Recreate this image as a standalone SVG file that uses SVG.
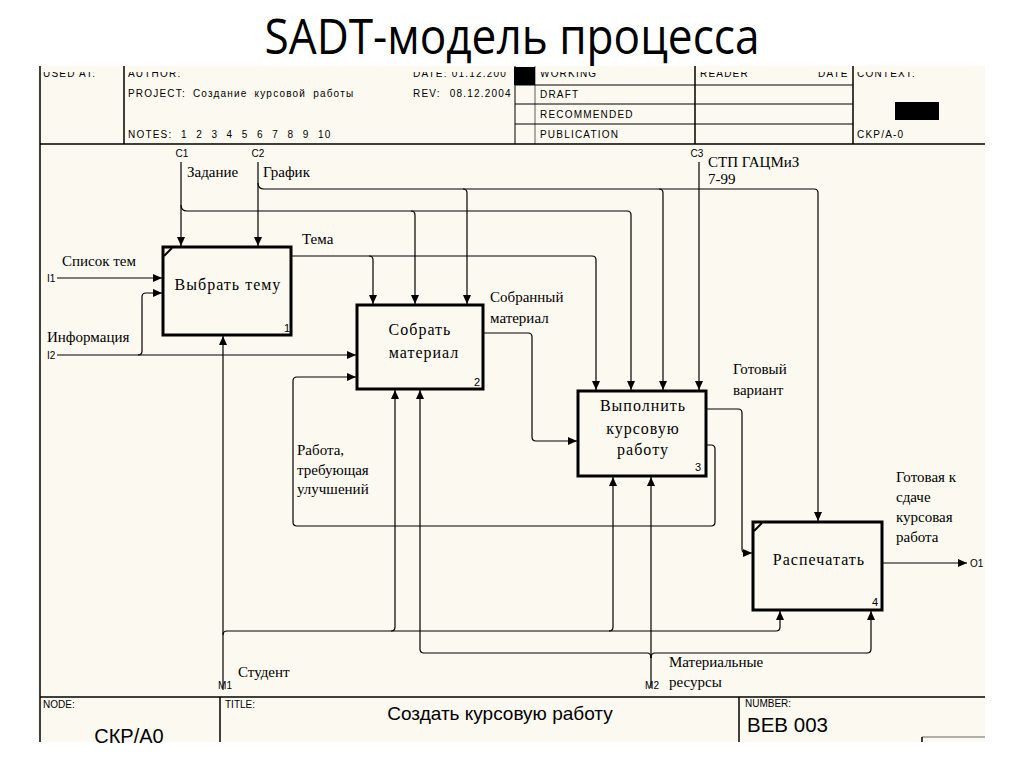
<svg xmlns="http://www.w3.org/2000/svg" width="1024" height="767" viewBox="0 0 1024 767">
<style>
.frame{stroke:#000;stroke-width:1.5;fill:none}
.thin{stroke:#000;stroke-width:1;fill:none}
.box{fill:#fcf9f0;stroke:#000;stroke-width:3}
.c{stroke:#000;stroke-width:1.2;fill:none}
.arr{marker-end:url(#ah)}
.bt{font-family:"Liberation Serif",serif;font-size:16px;letter-spacing:1px;text-anchor:middle;fill:#000}
.lb{font-family:"Liberation Serif",serif;font-size:15px;fill:#000}
.sm{font-family:"Liberation Sans",Arial,sans-serif;font-size:10px;fill:#000}
.hd{font-family:"Liberation Sans",Arial,sans-serif;font-size:10px;letter-spacing:1.2px;fill:#000}
.num{font-family:"Liberation Sans",Arial,sans-serif;font-size:11px;fill:#000}
</style>
<defs>
<marker id="ah" markerWidth="9" markerHeight="8" refX="9" refY="4" orient="auto" markerUnits="userSpaceOnUse">
<path d="M0,0 L9,4 L0,8 z" fill="#000"/>
</marker>
<clipPath id="topclip"><rect x="0" y="72" width="1024" height="12"/></clipPath>
</defs>
<rect x="0" y="0" width="1024" height="767" fill="#fff"/>
<text x="512" y="54" font-family="'Open Sans',sans-serif" font-size="50" text-anchor="middle" textLength="495" lengthAdjust="spacingAndGlyphs" fill="#000">SADT-модель процесса</text>
<rect x="38" y="66" width="947" height="676" fill="#fcf9f0"/>

<g id="header">
<g clip-path="url(#topclip)">
<text class="hd" x="43" y="77">USED AT:</text>
<text class="hd" x="128" y="77">AUTHOR:</text>
<text class="hd" x="413" y="77">DATE: 01.12.200</text>
<text class="hd" x="540" y="77">WORKING</text>
<text class="hd" x="700" y="77">READER</text>
<text class="hd" x="818" y="77">DATE</text>
<text class="hd" x="857" y="77">CONTEXT:</text>
</g>
<line class="frame" x1="40" y1="66" x2="40" y2="742"/>
<line class="frame" x1="124" y1="66" x2="124" y2="144"/>
<line class="thin" x1="515" y1="66" x2="515" y2="144"/>
<line stroke="#777" stroke-width="1.2" x1="535" y1="66" x2="535" y2="144"/>
<line class="frame" x1="695" y1="66" x2="695" y2="144" stroke-width="2"/>
<line class="frame" x1="853" y1="66" x2="853" y2="144" stroke-width="2"/>
<rect x="514" y="67" width="21" height="18" fill="#000"/>
<line class="thin" x1="515" y1="85" x2="853" y2="85"/>
<line class="thin" x1="515" y1="104" x2="853" y2="104"/>
<line class="thin" x1="515" y1="124" x2="853" y2="124"/>
<line class="frame" x1="40" y1="144" x2="985" y2="144"/>
<text class="hd" x="128" y="97" word-spacing="3">PROJECT: Создание курсовой работы</text>
<text class="hd" x="128" y="138" word-spacing="4.5">NOTES: 1 2 3 4 5 6 7 8 9 10</text>
<text class="hd" x="413" y="97" word-spacing="5">REV: 08.12.2004</text>
<text class="hd" x="540" y="98">DRAFT</text>
<text class="hd" x="540" y="118">RECOMMENDED</text>
<text class="hd" x="540" y="138">PUBLICATION</text>
<rect x="895" y="102" width="44" height="18" fill="#000"/>
<text class="hd" x="857" y="138">CKP/A-0</text>
</g>

<g id="footer">
<line class="frame" x1="40" y1="697" x2="985" y2="697" stroke-width="2"/>
<line class="frame" x1="220" y1="697" x2="220" y2="742"/>
<line class="frame" x1="739" y1="697" x2="739" y2="742"/>
<line stroke="#666" stroke-width="1.2" x1="922" y1="737" x2="985" y2="737"/>
<line stroke="#000" stroke-width="1.5" x1="922" y1="737" x2="922" y2="742"/>
<text class="sm" x="43" y="708" font-size="9">NODE:</text>
<text class="sm" x="225" y="708" font-size="9">TITLE:</text>
<text class="sm" x="745" y="707" font-size="9">NUMBER:</text>
<text x="129" y="743" font-family="'Liberation Sans',Arial,sans-serif" font-size="20" text-anchor="middle" fill="#000">СКР/А0</text>
<text x="500" y="720" font-family="'Liberation Sans',Arial,sans-serif" font-size="19" text-anchor="middle" fill="#000">Создать курсовую работу</text>
<text x="747" y="732" font-family="'Liberation Sans',Arial,sans-serif" font-size="21" fill="#000" textLength="81" lengthAdjust="spacingAndGlyphs">BEB 003</text>
</g>

<g id="connectors">
<path class="c arr" d="M181,162 V246"/>
<path class="c arr" d="M181,205 Q181,211 187,211 H627 Q631,211 631,215 V390"/>
<path class="c arr" d="M411,211 Q415,211 415,215 V304"/>
<path class="c arr" d="M258,162 V246"/>
<path class="c arr" d="M258,183 Q258,189 264,189 H814 Q818,189 818,193 V521"/>
<path class="c arr" d="M463,189 Q467,189 467,193 V304"/>
<path class="c arr" d="M659,189 Q663,189 663,193 V390"/>
<path class="c arr" d="M699,162 V390"/>
<path class="c arr" d="M291,256 H592 Q596,256 596,260 V390"/>
<path class="c arr" d="M369,256 Q373,256 373,260 V304"/>
<path class="c arr" d="M57,278 H162"/>
<path class="c arr" d="M57,355 H356"/>
<path class="c arr" d="M138,355 Q142,355 142,351 V297 Q142,293 146,293 H162"/>
<path class="c arr" d="M706,445 H711 Q715,445 715,449 V522 Q715,526 711,526 H297 Q293,526 293,522 V381 Q293,377 297,377 H356"/>
<path class="c arr" d="M483,333 H528 Q532,333 532,337 V437 Q532,441 536,441 H577"/>
<path class="c arr" d="M706,409 H738 Q742,409 742,413 V549 Q742,553 746,553 H752"/>
<path class="c arr" d="M882,563 H967"/>
<path class="c arr" d="M223,690 V336"/>
<path class="c arr" d="M223,635 Q223,631 227,631 H776 Q780,631 780,627 V611"/>
<path class="c arr" d="M391,631 Q395,631 395,627 V390"/>
<path class="c arr" d="M609,631 Q613,631 613,627 V477"/>
<path class="c arr" d="M651,688 V477"/>
<path class="c arr" d="M651,658 Q651,653 647,653 H424 Q420,653 420,649 V390"/>
<path class="c arr" d="M651,658 Q651,653 655,653 H867 Q871,653 871,649 V611"/>
</g>

<g id="labels">
<text class="sm" x="182" y="157" text-anchor="middle">C1</text>
<text class="sm" x="258" y="157" text-anchor="middle">C2</text>
<text class="sm" x="697" y="157" text-anchor="middle">C3</text>
<text class="sm" x="47" y="282">I1</text>
<text class="sm" x="47" y="359">I2</text>
<text class="sm" x="970" y="567">O1</text>
<text class="sm" x="225" y="689" text-anchor="middle">M1</text>
<text class="sm" x="652" y="689" text-anchor="middle">M2</text>
<text class="lb" x="187" y="177">Задание</text>
<text class="lb" x="263" y="177">График</text>
<text class="lb" x="708" y="167">СТП ГАЦМиЗ</text>
<text class="lb" x="708" y="184">7-99</text>
<text class="lb" x="62" y="266">Список тем</text>
<text class="lb" x="47" y="342">Информация</text>
<text class="lb" x="302" y="244">Тема</text>
<text class="lb" x="490" y="302">Собранный</text>
<text class="lb" x="490" y="323">материал</text>
<text class="lb" x="733" y="374">Готовый</text>
<text class="lb" x="733" y="395">вариант</text>
<text class="lb" x="297" y="455">Работа,</text>
<text class="lb" x="297" y="475">требующая</text>
<text class="lb" x="297" y="494">улучшений</text>
<text class="lb" x="896" y="482">Готовая к</text>
<text class="lb" x="896" y="502">сдаче</text>
<text class="lb" x="896" y="522">курсовая</text>
<text class="lb" x="896" y="542">работа</text>
<text class="lb" x="238" y="677">Студент</text>
<text class="lb" x="669" y="667">Материальные</text>
<text class="lb" x="669" y="687">ресурсы</text>
</g>

<g id="node1">
<rect class="box" x="163" y="247" width="128" height="88"/>
<path d="M164,256 L172,248" stroke="#000" stroke-width="2"/>
<text class="bt" x="228" y="290">Выбрать тему</text>
<text class="num" x="284" y="332">1</text>
</g>
<g id="node2">
<rect class="box" x="357" y="305" width="126" height="84"/>
<text class="bt" x="420" y="335">Собрать</text>
<text class="bt" x="424" y="358">материал</text>
<text class="num" x="474" y="386">2</text>
</g>
<g id="node3">
<rect class="box" x="578" y="391" width="128" height="85"/>
<text class="bt" x="643" y="411">Выполнить</text>
<text class="bt" x="643" y="434">курсовую</text>
<text class="bt" x="643" y="455">работу</text>
<text class="num" x="695" y="471">3</text>
</g>
<g id="node4">
<rect class="box" x="753" y="522" width="129" height="88"/>
<path d="M754,531 L762,523" stroke="#000" stroke-width="2"/>
<text class="bt" x="819" y="565">Распечатать</text>
<text class="num" x="872" y="606">4</text>
</g>
</svg>
